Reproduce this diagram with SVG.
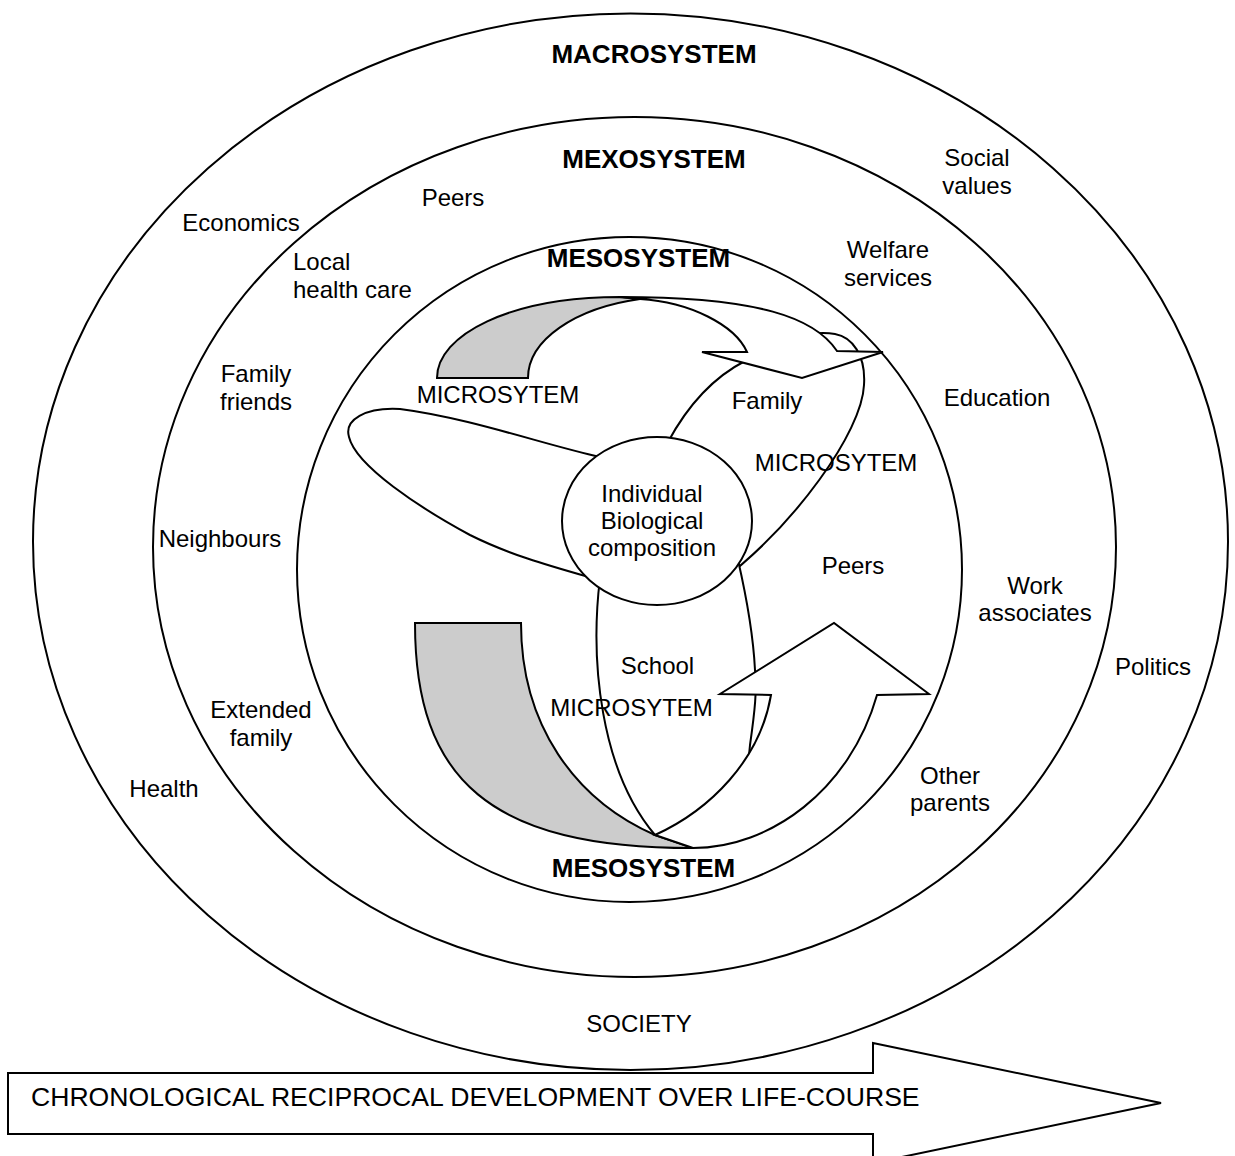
<svg xmlns="http://www.w3.org/2000/svg" width="1235" height="1156" viewBox="0 0 1235 1156">
<style>
.ln{fill:none;stroke:#000;stroke-width:2}
.wt{fill:#fff;stroke:#000;stroke-width:2;stroke-linejoin:miter}
.gy{fill:#ccc;stroke:#000;stroke-width:2}
text{font-family:"Liberation Sans",Arial,Helvetica,sans-serif;font-size:24px;fill:#000}
.b{font-weight:bold;font-size:26px}
.m{text-anchor:middle}
</style>
<rect width="1235" height="1156" fill="#fff"/>
<g id="macrosystem">
<ellipse class="ln" cx="630.5" cy="541.7" rx="597.5" ry="528.3"/>
<text class="b m" x="654" y="63">MACROSYSTEM</text>
<text class="m" x="977" y="166">Social</text>
<text class="m" x="977" y="194">values</text>
<text class="m" x="241" y="231">Economics</text>
<text class="m" x="1153" y="675">Politics</text>
<text class="m" x="164" y="797">Health</text>
<text class="m" x="639" y="1032">SOCIETY</text>
</g>
<g id="exosystem">
<ellipse class="ln" cx="634.5" cy="547" rx="481.5" ry="430"/>
<text class="b m" x="654" y="168">MEXOSYSTEM</text>
<text class="m" x="453" y="206">Peers</text>
<text x="293" y="270">Local</text>
<text x="293" y="298">health care</text>
<text class="m" x="888" y="258">Welfare</text>
<text class="m" x="888" y="286">services</text>
<text class="m" x="256" y="382">Family</text>
<text class="m" x="256" y="410">friends</text>
<text class="m" x="997" y="406">Education</text>
<text class="m" x="220" y="547">Neighbours</text>
<text class="m" x="1035" y="594">Work</text>
<text class="m" x="1035" y="621">associates</text>
<text class="m" x="261" y="718">Extended</text>
<text class="m" x="261" y="746">family</text>
<text class="m" x="950" y="784">Other</text>
<text class="m" x="950" y="811">parents</text>
</g>
<g id="mesosystem">
<circle class="ln" cx="629.5" cy="569.5" r="332.5"/>
</g>
<g id="microsystem-left">
<path class="wt" d="M600,457 C545,445 470,418 400,409 C365,407 344,420 349,437 C356,466 420,508 470,535 C510,555 550,566 592,578 Z"/>
</g>
<g id="microsystem-family">
<path class="wt" d="M668,442 C688,405 712,378 745,361 C775,340 810,330 835,334 C852,337 866,355 864,385 C862,432 795,525 720,582 Z"/>
</g>
<g id="microsystem-school">
<path class="wt" d="M600,578 C590,660 600,770 655,835 C710,830 748,790 750,745 C755,710 757,690 755,670 C753,630 746,595 738,560 Z"/>
</g>
<g id="connectors">
<path class="gy" d="M437,378 C437,335 510,297 620,297 L640,299 C575,308 528,340 528,378 Z"/>
<path class="wt" d="M640,299 C690,302 735,325 747,352 L702,352 L802,378 L883,352 L837,351 C815,318 760,297 620,297 Z"/>
<path class="gy" d="M415,623 L521,623 C521,725 575,800 655,835 L693,848 C490,848 415,780 415,623 Z"/>
<path class="wt" d="M655,835 C710,810 760,760 771,695 L720,694 L834,623 L929,694 L877,695 C850,790 770,848 693,848 Z"/>
<path class="wt" d="M8,1073 L873,1073 L873,1043 L1161,1103 L873,1163 L873,1134 L8,1134 Z"/>
<text x="31" y="1106" style="font-size:26.6px">CHRONOLOGICAL RECIPROCAL DEVELOPMENT OVER LIFE-COURSE</text>
</g>
<g id="individual">
<ellipse class="wt" cx="657" cy="521" rx="95" ry="84"/>
<text class="m" x="652" y="502">Individual</text>
<text class="m" x="652" y="529">Biological</text>
<text class="m" x="652" y="556">composition</text>
</g>
<g id="labels">
<text class="b m" x="638.5" y="267">MESOSYSTEM</text>
<text class="b m" x="643.5" y="877">MESOSYSTEM</text>
<text class="m" x="498" y="403">MICROSYTEM</text>
<text class="m" x="767" y="409">Family</text>
<text class="m" x="836" y="471">MICROSYTEM</text>
<text class="m" x="853" y="574">Peers</text>
<text class="m" x="657.5" y="674">School</text>
<text class="m" x="631.5" y="716">MICROSYTEM</text>
</g>
</svg>
